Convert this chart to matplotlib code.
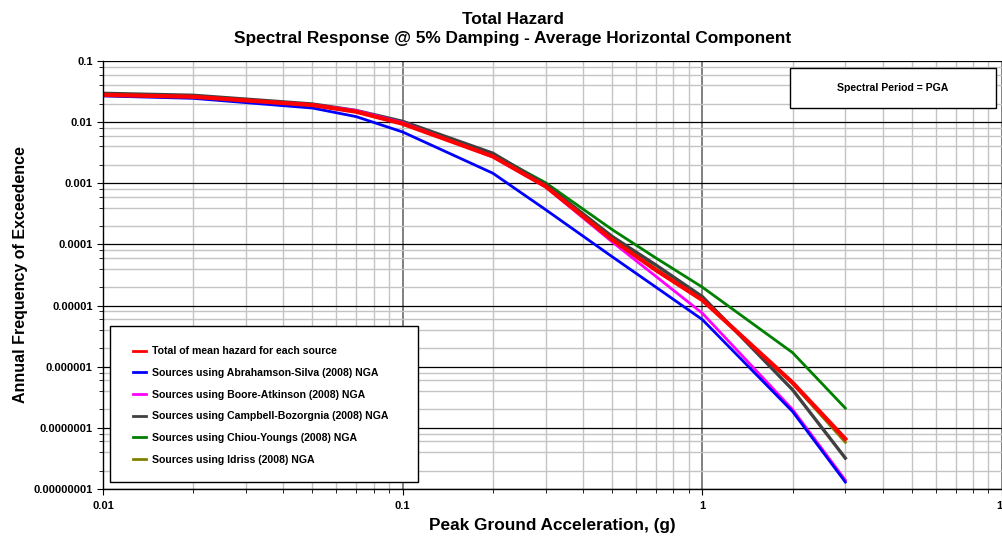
import matplotlib
matplotlib.use('Agg')
import matplotlib.pyplot as plt
from matplotlib.patches import Rectangle
from matplotlib.ticker import LogLocator, FixedLocator, FixedFormatter, NullFormatter

plt.rcParams['font.family'] = ['Liberation Sans', 'DejaVu Sans']
plt.rcParams['font.weight'] = 'bold'

# Peak ground acceleration (g)
pga = [0.01, 0.02, 0.05, 0.07, 0.1, 0.2, 0.3, 0.5, 0.7, 1, 2, 3]

# Annual frequency of exceedence for each curve
total = [0.0279, 0.026, 0.019, 0.0148, 0.0094, 0.00275, 0.00089, 1.2e-4, 3.8e-5, 1.23e-5, 5.5e-7, 6.6e-8]
abrahamson = [0.0268, 0.0245, 0.017, 0.0123, 0.0069, 0.00146, 0.00037, 6.3e-5, 2.0e-5, 5.9e-6, 1.85e-7, 1.3e-8]
boore = [0.0275, 0.0257, 0.0193, 0.0155, 0.0098, 0.0027, 0.00087, 1.1e-4, 3.0e-5, 7.5e-6, 2.0e-7, 1.4e-8]
campbell = [0.0296, 0.0275, 0.0198, 0.0155, 0.0103, 0.0031, 0.00095, 1.35e-4, 4.6e-5, 1.4e-5, 4.2e-7, 3.2e-8]
chiou = [0.0275, 0.0255, 0.0188, 0.0148, 0.0097, 0.003, 0.00102, 1.75e-4, 6.0e-5, 2.0e-5, 1.7e-6, 2.1e-7]
idriss = [0.028, 0.0262, 0.0192, 0.015, 0.0097, 0.0029, 0.00092, 1.28e-4, 4.0e-5, 1.28e-5, 5.3e-7, 5.8e-8]

labels = ['Total of mean hazard for each source',
          'Sources using Abrahamson-Silva (2008) NGA',
          'Sources using Boore-Atkinson (2008) NGA',
          'Sources using Campbell-Bozorgnia (2008) NGA',
          'Sources using Chiou-Youngs (2008) NGA',
          'Sources using Idriss (2008) NGA']

y_ticks = [1e-8, 1e-7, 1e-6, 1e-5, 1e-4, 1e-3, 1e-2, 1e-1]
y_tick_labels = ['0.00000001', '0.0000001', '0.000001', '0.00001',
                 '0.0001', '0.001', '0.01', '0.1']
x_ticks = [0.01, 0.1, 1, 10]
x_tick_labels = ['0.01', '0.1', '1', '10']

fig = plt.figure(figsize=(10.03, 5.36), dpi=100)
ax = fig.add_axes([0.1027, 0.0877, 0.8963, 0.7985])
ax.set_xscale('log')
ax.set_yscale('log')
ax.set_xlim(0.01, 10)
ax.set_ylim(1e-8, 0.1)

# Grid: light gray minor, darker major
ax.xaxis.set_minor_locator(LogLocator(base=10, subs=range(2, 10), numticks=20))
ax.yaxis.set_minor_locator(LogLocator(base=10, subs=(2, 4, 6, 8), numticks=20))
ax.xaxis.set_minor_formatter(NullFormatter())
ax.yaxis.set_minor_formatter(NullFormatter())
ax.grid(True, which='minor', color='#c4c4c4', linewidth=1.0)
ax.grid(True, which='major', axis='y', color='black', linewidth=0.9)
ax.grid(True, which='major', axis='x', color='#808080', linewidth=1.4)
ax.set_axisbelow(True)

h_id, = ax.plot(pga, idriss, color='#808000', lw=2.0)
h_cy, = ax.plot(pga, chiou, color='#008000', lw=2.0)
h_cb, = ax.plot(pga, campbell, color='#404040', lw=2.4)
h_ba, = ax.plot(pga, boore, color='#ff00ff', lw=2.0)
h_as, = ax.plot(pga, abrahamson, color='#0000ff', lw=2.0)
h_tot, = ax.plot(pga, total, color='#ff0000', lw=3.0)

ax.yaxis.set_major_locator(FixedLocator(y_ticks))
ax.yaxis.set_major_formatter(FixedFormatter(y_tick_labels))
ax.xaxis.set_major_locator(FixedLocator(x_ticks))
ax.xaxis.set_major_formatter(FixedFormatter(x_tick_labels))
ax.tick_params(axis='both', which='major', labelsize=8, length=4, color='black')
ax.tick_params(axis='both', which='minor', length=3, color='black')
ax.tick_params(axis='x', which='major', pad=5)
for lbl in ax.get_xticklabels() + ax.get_yticklabels():
    lbl.set_fontweight('bold')

for s in ax.spines.values():
    s.set_color('black')
    s.set_linewidth(1.0)
ax.spines['top'].set_visible(False)
ax.spines['right'].set_visible(False)

fig.text(0.5115, 0.963, 'Total Hazard', ha='center', va='center', fontsize=12.4, fontweight='bold')
fig.text(0.5115, 0.929, 'Spectral Response @ 5% Damping - Average Horizontal Component',
         ha='center', va='center', fontsize=12.4, fontweight='bold')
ax.set_xlabel('Peak Ground Acceleration, (g)', fontsize=12.4, fontweight='bold', labelpad=5)
ax.set_ylabel('Annual Frequency of Exceedence', fontsize=11.5, fontweight='bold', labelpad=4)

# Legend box drawn as a plain rectangle, entries placed inside it
ax.add_patch(Rectangle((0.0078, 0.0164), 0.3422, 0.3646, transform=ax.transAxes,
                       facecolor='white', edgecolor='black', linewidth=1.0, zorder=5))
leg = ax.legend(handles=[h_tot, h_as, h_ba, h_cb, h_cy, h_id], labels=labels,
                loc='upper left', bbox_to_anchor=(0.0333, 0.333),
                fontsize=7.6, frameon=False, handlelength=1.25,
                labelspacing=1.1, borderpad=0, handletextpad=0.6, borderaxespad=0)
leg.set_zorder(6)
for t in leg.get_texts():
    t.set_fontweight('bold')
for ln in leg.get_lines():
    ln.set_linewidth(2.0)

# Spectral period box
ax.add_patch(Rectangle((0.7644, 0.890), 0.2289, 0.0934, transform=ax.transAxes,
                       facecolor='white', edgecolor='black', linewidth=1.0, zorder=5))
ax.text(0.8789, 0.9369, 'Spectral Period = PGA', transform=ax.transAxes,
        ha='center', va='center', fontsize=7.6, fontweight='bold', zorder=6)

fig.savefig('out.png', dpi=100)
